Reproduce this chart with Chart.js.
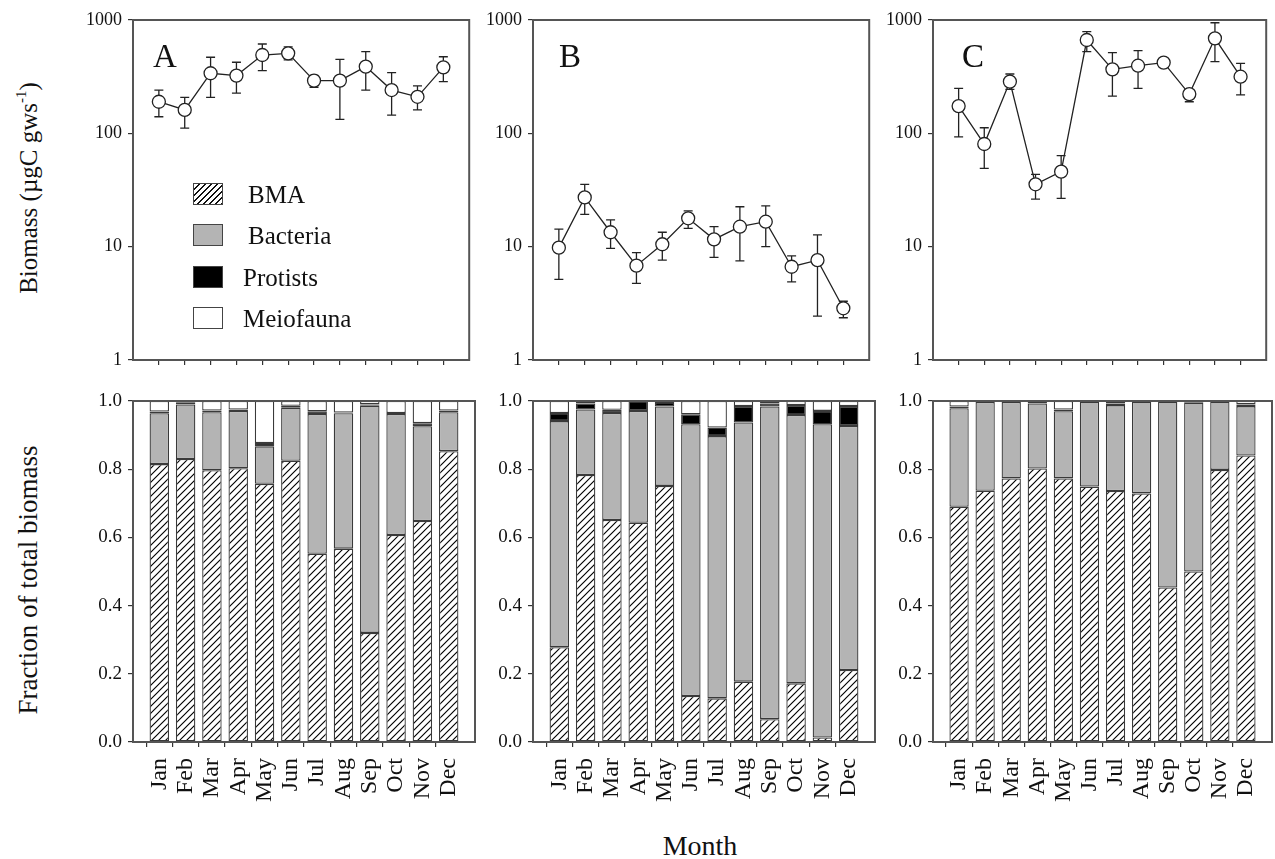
<!DOCTYPE html>
<html lang="en">
<head>
<meta charset="UTF-8">
<title>Biomass by month</title>
<script src="https://cdn.jsdelivr.net/npm/chart.js"></script>
<style>
  body {
    margin: 0;
    width: 1275px;
    height: 859px;
    overflow: hidden;
    background: #fff;
    position: relative;
    font-family: 'Liberation Serif', 'Times New Roman', serif;
    color: #111;
  }
  canvas { position: absolute; }
  .txt { position: absolute; white-space: nowrap; line-height: 1; }
  .ytitle { font-size: 27px; transform: translate(-50%, -50%) rotate(-90deg); }
  .ytitle sup { font-size: 0.6em; vertical-align: 0.7em; line-height: 0; }
  .letter { font-size: 33px; }
  .key { position: absolute; width: 30px; height: 22px; box-sizing: border-box; border: 1.5px solid #444; }
  .keytxt { font-size: 25px; }
</style>
</head>
<body>
  <canvas id="topA"></canvas>
  <canvas id="topB"></canvas>
  <canvas id="topC"></canvas>
  <canvas id="barA"></canvas>
  <canvas id="barB"></canvas>
  <canvas id="barC"></canvas>

  <div class="txt ytitle" style="left:28px; top:188px; font-size:25px;">Biomass (&micro;gC gws<sup>-1</sup>)</div>
  <div class="txt ytitle" style="left:28px; top:580px;">Fraction of total biomass</div>
  <div class="txt" style="left:700px; top:846px; font-size:28px; transform:translate(-50%,-50%);">Month</div>

  <div class="txt letter" style="left:153px; top:40px;">A</div>
  <div class="txt letter" style="left:559px; top:40px;">B</div>
  <div class="txt letter" style="left:962px; top:40px;">C</div>

  <div class="key" style="left:193px; top:183px; background:repeating-linear-gradient(135deg, #fff 0 3px, #111 3px 4.3px);"></div>
  <div class="txt keytxt" style="left:248px; top:182px;">BMA</div>
  <div class="key" style="left:193px; top:224px; background:#b4b4b4;"></div>
  <div class="txt keytxt" style="left:248px; top:223px;">Bacteria</div>
  <div class="key" style="left:193px; top:266px; background:#000;"></div>
  <div class="txt keytxt" style="left:243px; top:265px;">Protists</div>
  <div class="key" style="left:193px; top:307px; background:#fff;"></div>
  <div class="txt keytxt" style="left:243px; top:306px;">Meiofauna</div>

<script>
// ---- data ----
const months = ['Jan', 'Feb', 'Mar', 'Apr', 'May', 'Jun', 'Jul', 'Aug', 'Sep', 'Oct', 'Nov', 'Dec'];
const logTicks = [1, 10, 100, 1000];

// biomass (ugC gws-1), mean with error bar ends
const biomassA = [190, 161, 339, 323, 491, 508, 292, 292, 388, 241, 210, 382];
const biomassA_hi = [241, 208, 469, 424, 614, 580, 325, 450, 526, 343, 262, 474];
const biomassA_lo = [140, 111, 208, 226, 357, 445, 255, 133, 241, 145, 161, 286];

const biomassB = [9.8, 27.2, 13.4, 6.8, 10.5, 17.8, 11.6, 15, 16.6, 6.65, 7.6, 2.86];
const biomassB_hi = [14.3, 35.5, 17.2, 8.85, 13.4, 20.7, 15, 22.5, 22.9, 8.3, 12.7, 3.3];
const biomassB_lo = [5.15, 19.3, 9.66, 4.74, 7.62, 14.5, 8.05, 7.5, 10, 4.9, 2.44, 2.36];

const biomassC = [174, 80.5, 286, 35.5, 45.9, 666, 367, 395, 421, 222, 689, 316];
const biomassC_hi = [249, 112, 334, 43.5, 63.5, 789, 515, 537, 444, 241, 946, 415];
const biomassC_lo = [93, 49, 244, 26.3, 26.7, 525, 213, 249, 398, 190, 429, 218];

// fraction of total biomass
const bmaA = [0.815, 0.83, 0.797, 0.803, 0.757, 0.825, 0.552, 0.567, 0.32, 0.607, 0.648, 0.853];
const bacteriaA = [0.149, 0.16, 0.17, 0.168, 0.11, 0.155, 0.41, 0.397, 0.666, 0.355, 0.278, 0.114];
const protistsA = [0.005, 0.005, 0.005, 0.004, 0.01, 0.006, 0.008, 0.002, 0.004, 0.003, 0.009, 0.005];
const meioA = [0.031, 0.005, 0.028, 0.025, 0.123, 0.014, 0.03, 0.034, 0.01, 0.035, 0.065, 0.028];

const bmaB = [0.278, 0.783, 0.651, 0.643, 0.751, 0.135, 0.128, 0.177, 0.067, 0.172, 0.013, 0.211];
const bacteriaB = [0.663, 0.192, 0.314, 0.328, 0.233, 0.797, 0.769, 0.76, 0.917, 0.787, 0.919, 0.716];
const protistsB = [0.024, 0.018, 0.009, 0.029, 0.013, 0.029, 0.025, 0.048, 0.009, 0.029, 0.039, 0.058];
const meioB = [0.035, 0.007, 0.026, 0.0, 0.003, 0.039, 0.078, 0.015, 0.007, 0.012, 0.029, 0.015];

const bmaC = [0.69, 0.737, 0.773, 0.802, 0.773, 0.749, 0.736, 0.729, 0.453, 0.5, 0.798, 0.84];
const bacteriaC = [0.289, 0.26, 0.224, 0.191, 0.197, 0.249, 0.252, 0.269, 0.545, 0.495, 0.2, 0.145];
const protistsC = [0.005, 0.002, 0.002, 0.005, 0.005, 0.001, 0.005, 0.001, 0.001, 0.003, 0.001, 0.005];
const meioC = [0.016, 0.001, 0.001, 0.002, 0.025, 0.001, 0.007, 0.001, 0.001, 0.002, 0.001, 0.01];

// ---- layout ----
const AXIS_W = 62;
const PAD_T = 14;
const plotLefts = [133, 533, 933];
const plotWidths = [342, 342, 339];

const SERIF = "'Liberation Serif', 'Times New Roman', serif";
const labels = ['', ...months, ''];
const pad = arr => [null, ...arr, null];

function hatch() {
  const c = document.createElement('canvas');
  c.width = 7; c.height = 7;
  const g = c.getContext('2d');
  g.fillStyle = '#fff';
  g.fillRect(0, 0, 7, 7);
  g.strokeStyle = '#000';
  g.lineWidth = 1.15;
  g.beginPath();
  g.moveTo(0, 7); g.lineTo(7, 0);
  g.moveTo(-1, 1); g.lineTo(1, -1);
  g.moveTo(6, 8); g.lineTo(8, 6);
  g.stroke();
  return g.createPattern(c, 'repeat');
}

const frame = {
  id: 'frame',
  afterDraw(chart) {
    const { ctx, chartArea: a } = chart;
    ctx.save();
    ctx.strokeStyle = '#555';
    ctx.lineWidth = 2;
    ctx.strokeRect(a.left, a.top, a.right - a.left, a.bottom - a.top);
    ctx.restore();
  }
};

const errorBars = {
  id: 'errorBars',
  beforeDatasetsDraw(chart, args, opts) {
    if (!opts.lo) return;
    const { ctx, scales: { x, y } } = chart;
    ctx.save();
    ctx.strokeStyle = '#222';
    ctx.lineWidth = 1.3;
    opts.lo.forEach((lo, i) => {
      const px = x.getPixelForValue(i + 1);
      const y1 = y.getPixelForValue(lo);
      const y2 = y.getPixelForValue(opts.hi[i]);
      ctx.beginPath();
      ctx.moveTo(px, y1); ctx.lineTo(px, y2);
      ctx.moveTo(px - 4.5, y1); ctx.lineTo(px + 4.5, y1);
      ctx.moveTo(px - 4.5, y2); ctx.lineTo(px + 4.5, y2);
      ctx.stroke();
    });
    ctx.restore();
  }
};

function place(id, col, plotTop, plotH, xAxisH) {
  const cv = document.getElementById(id);
  const w = AXIS_W + plotWidths[col] + 2;
  const h = PAD_T + plotH + xAxisH;
  cv.width = w; cv.height = h;
  cv.style.left = (plotLefts[col] - AXIS_W) + 'px';
  cv.style.top = (plotTop - PAD_T) + 'px';
  cv.style.width = w + 'px';
  cv.style.height = h + 'px';
  return cv;
}

function xScale(xAxisH, showLabels) {
  return {
    type: 'category',
    offset: false,
    grid: {
      drawOnChartArea: false,
      drawTicks: true,
      tickLength: 5,
      lineWidth: 1.2,
      tickColor: c => (c.index === 0 || c.index === 13) ? 'rgba(0,0,0,0)' : '#333'
    },
    border: { display: false },
    ticks: {
      display: showLabels,
      autoSkip: false,
      maxRotation: 90,
      minRotation: 90,
      padding: 11,
      color: '#111',
      font: { family: SERIF, size: 24 }
    },
    afterFit: s => { s.height = xAxisH; s.paddingLeft = 0; s.paddingRight = 0; }
  };
}

function yGrid() {
  return { drawOnChartArea: false, drawTicks: true, tickLength: 5, lineWidth: 1.2, tickColor: '#333' };
}

function topChart(id, col, vals, lo, hi) {
  const cv = place(id, col, 20, 340, 8);
  new Chart(cv, {
    type: 'line',
    data: {
      labels: labels,
      datasets: [{
        data: pad(vals),
        borderColor: '#222',
        borderWidth: 1.3,
        pointRadius: 6.5,
        pointBackgroundColor: '#fff',
        pointBorderColor: '#222',
        pointBorderWidth: 1.3,
        tension: 0
      }]
    },
    options: {
      responsive: false,
      animation: false,
      layout: { padding: { top: PAD_T, right: 2, left: 0, bottom: 0 } },
      plugins: { legend: { display: false }, tooltip: { enabled: false }, errorBars: { lo: lo, hi: hi } },
      scales: {
        x: xScale(8, false),
        y: {
          type: 'logarithmic',
          min: 1,
          max: 1000,
          grid: yGrid(),
          border: { display: false },
          afterBuildTicks: s => { s.ticks = logTicks.map(v => ({ value: v })); },
          ticks: { padding: 6, color: '#111', font: { family: SERIF, size: 18 }, callback: v => String(v) },
          afterFit: s => { s.width = AXIS_W; s.paddingTop = 0; s.paddingBottom = 0; }
        }
      }
    },
    plugins: [errorBars, frame]
  });
}

function barChart(id, col, bma, bacteria, protists, meio) {
  const cv = place(id, col, 401, 341, 75);
  const pattern = hatch();
  const common = { borderColor: '#3a3a3a', borderWidth: 1.3, borderSkipped: false, barPercentage: 0.74, categoryPercentage: 1 };
  new Chart(cv, {
    type: 'bar',
    data: {
      labels: labels,
      datasets: [
        { label: 'BMA', data: pad(bma), backgroundColor: pattern, ...common },
        { label: 'Bacteria', data: pad(bacteria), backgroundColor: '#b4b4b4', ...common },
        { label: 'Protists', data: pad(protists), backgroundColor: '#000', ...common },
        { label: 'Meiofauna', data: pad(meio), backgroundColor: '#fff', ...common }
      ]
    },
    options: {
      responsive: false,
      animation: false,
      layout: { padding: { top: PAD_T, right: 2, left: 0, bottom: 0 } },
      plugins: { legend: { display: false }, tooltip: { enabled: false } },
      scales: {
        x: { ...xScale(75, true), stacked: true },
        y: {
          stacked: true,
          min: 0,
          max: 1,
          grid: yGrid(),
          border: { display: false },
          ticks: { stepSize: 0.2, padding: 6, color: '#111', font: { family: SERIF, size: 19 }, callback: v => v.toFixed(1) },
          afterFit: s => { s.width = AXIS_W; s.paddingTop = 0; s.paddingBottom = 0; }
        }
      }
    },
    plugins: [frame]
  });
}

topChart('topA', 0, biomassA, biomassA_lo, biomassA_hi);
topChart('topB', 1, biomassB, biomassB_lo, biomassB_hi);
topChart('topC', 2, biomassC, biomassC_lo, biomassC_hi);

barChart('barA', 0, bmaA, bacteriaA, protistsA, meioA);
barChart('barB', 1, bmaB, bacteriaB, protistsB, meioB);
barChart('barC', 2, bmaC, bacteriaC, protistsC, meioC);
</script>
</body>
</html>
